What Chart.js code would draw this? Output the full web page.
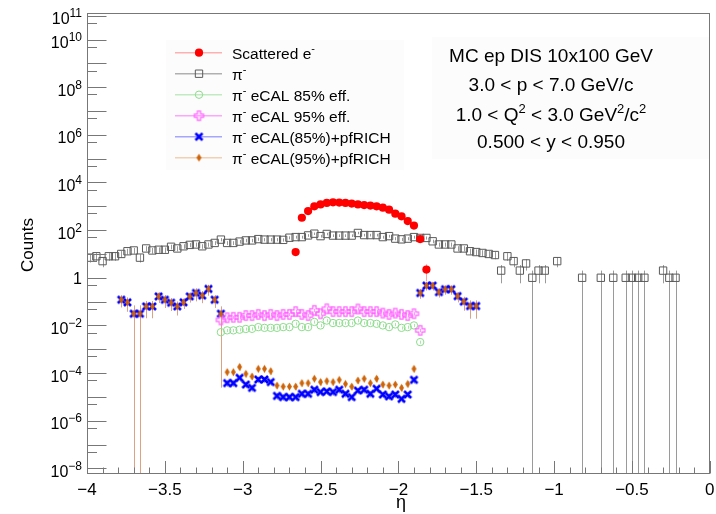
<!DOCTYPE html>
<html>
<head>
<meta charset="utf-8">
<script src="https://cdn.jsdelivr.net/npm/chart.js@4.4.1/dist/chart.umd.min.js"></script>
<style>
  body { margin: 0; background: #fff; }
  #wrap { width: 716px; height: 514px; }
</style>
</head>
<body>
<div id="wrap"><canvas id="etaChart" width="716" height="514"></canvas></div>
<script>
// eta binning: 100 bins between -4 and 0
const nBins = 100;
const etaMin = -4;
const etaMax = 0;

// pi- counts per bin (null = empty bin)
const piCounts = [
  7, 8, 5, 8, 8, 10, 13, 14, 7, 17,
  14, 15, 15, 20, 17, 21, 24, 25, 21, 25,
  29, 40, 29, 29, 33, 37, 37, 42, 40, 40,
  40, 39, 48, 51, 51, 60, 71, 56, 69, 59,
  59, 59, 59, 76, 62, 62, 62, 51, 56, 44,
  41, 44, 51, 47, 47, 34, 25, 25, 25, 17,
  17, 13, 12, 11, 10, 9, 2, 8, 5, 2,
  4, 1, 2, 2, null, 5, null, null, null, 1,
  null, null, 1, null, 1, null, 1, 1, 1, 1,
  null, null, 2, 1, 1, null, null, null, null, null
];

// scattered electron, starting at bin 33
const electronFirstBin = 33;
const electronCounts = [12, 330, 630, 1000, 1200, 1380, 1470, 1430, 1380, 1300, 1200,
  1130, 1070, 1000, 880, 720, 490, 380, 240, 155, 42, 2.2];

// eCAL-only suppression, starting at bin 21
const ecalFirstBin = 21;
const ecal85Values = [0.0052, 0.0062, 0.0062, 0.0066, 0.0071, 0.0072, 0.0085, 0.0079, 0.0079, 0.0079,
  0.0085, 0.0085, 0.0117, 0.0085, 0.0085, 0.014, 0.010, 0.016, 0.0126, 0.0126,
  0.0126, 0.0126, 0.016, 0.0126, 0.0126, 0.0117, 0.010, 0.0085, 0.011, 0.0079,
  0.0085, 0.010, 0.0020];
const ecal95Values = [0.017, 0.021, 0.022, 0.022, 0.026, 0.026, 0.029, 0.026, 0.029, 0.026,
  0.029, 0.029, 0.038, 0.029, 0.026, 0.043, 0.031, 0.050, 0.038, 0.038,
  0.038, 0.038, 0.049, 0.038, 0.038, 0.038, 0.033, 0.029, 0.033, 0.029,
  0.026, 0.031, 0.0062];
const ecalRelErr = 0.15;

// eCAL + pfRICH: forward and backward parts are the same for both efficiencies
const pidFirstBin = 5;
const pidForward = [0.12, 0.093, 0.031, 0.031, 0.063, 0.063, 0.165, 0.12, 0.09, 0.063,
  0.093, 0.165, 0.23, 0.18, 0.34, 0.12, 0.031];
const pidForwardRelErr = [0.52, 0.59, 1.2, 1.2, 0.68, 0.68, 0.47, 0.55, 0.55, 0.58,
  0.47, 0.44, 0.55, 0.52, 0.47, 0.54, 0.9992];
const pid85Central = [3.8e-5, 3.8e-5, 6.3e-5, 3.3e-5, 2.4e-5, 5.4e-5, 5.4e-5, 4.2e-5, 1.1e-5, 9.8e-6,
  9.8e-6, 9.8e-6, 1.35e-5, 1.35e-5, 2.0e-5, 1.6e-5, 1.7e-5, 1.6e-5, 2.0e-5, 1.35e-5,
  9.8e-6, 1.85e-5, 2.0e-5, 1.35e-5, 2.2e-5, 1.26e-5, 1.05e-5, 1.26e-5, 8.3e-6, 1.26e-5, 5.2e-5];
const pid95Central = [1.1e-4, 1.1e-4, 1.8e-4, 9.3e-5, 7.2e-5, 1.5e-4, 1.5e-4, 1.2e-4, 3.0e-5, 2.7e-5,
  2.7e-5, 2.7e-5, 3.8e-5, 3.8e-5, 5.8e-5, 4.2e-5, 4.6e-5, 4.2e-5, 5.2e-5, 3.5e-5,
  2.7e-5, 4.9e-5, 5.8e-5, 3.8e-5, 5.8e-5, 3.3e-5, 3.0e-5, 3.3e-5, 2.4e-5, 3.5e-5, 1.5e-4];
const pidCentralRelErr = 0.3;
const pidBackward = [0.23, 0.47, 0.47, 0.25, 0.33, 0.33, 0.17, 0.10, 0.065, 0.065];
const pidBackwardRelErr = [0.42, 0.37, 0.37, 0.4, 0.4, 0.4, 0.45, 0.58, 0.7, 0.7];

// axis ticks
const xTickLabels = [-4, -3.5, -3, -2.5, -2, -1.5, -1, -0.5, 0];
const yLabelExps = [-8, -6, -4, -2, 0, 2, 4, 6, 8, 10, 11];
const yMin = 5.8e-9;
const yMax = 1.3e11;

const FONT = "'Liberation Sans', Arial, Helvetica, sans-serif";
const font = size => size + 'px ' + FONT;

function binCenter(i) {
  return etaMin + (i + 0.5) * (etaMax - etaMin) / nBins;
}

function toPoints(firstBin, values, errOf) {
  const pts = [];
  values.forEach((v, k) => {
    if (v == null) return;
    pts.push({ x: binCenter(firstBin + k), y: v, e: errOf(v, k) });
  });
  return pts;
}

function markerCanvas(size, draw) {
  const c = document.createElement('canvas');
  c.width = size;
  c.height = size;
  const g = c.getContext('2d');
  g.translate(size / 2, size / 2);
  draw(g);
  return c;
}

const openCross = markerCanvas(13, g => {
  const a = 1.6, l = 4.6;
  g.beginPath();
  g.moveTo(-a, -l); g.lineTo(a, -l); g.lineTo(a, -a); g.lineTo(l, -a);
  g.lineTo(l, a); g.lineTo(a, a); g.lineTo(a, l); g.lineTo(-a, l);
  g.lineTo(-a, a); g.lineTo(-l, a); g.lineTo(-l, -a); g.lineTo(-a, -a);
  g.closePath();
  g.strokeStyle = 'rgb(255,100,255)';
  g.lineWidth = 1.2;
  g.stroke();
});

const boldX = markerCanvas(11, g => {
  g.strokeStyle = 'rgb(0,0,255)';
  g.lineWidth = 2.6;
  g.beginPath();
  g.moveTo(-3.5, -3.5); g.lineTo(3.5, 3.5);
  g.moveTo(3.5, -3.5); g.lineTo(-3.5, 3.5);
  g.stroke();
});

const diamond = markerCanvas(11, g => {
  g.fillStyle = 'rgb(205,100,10)';
  g.beginPath();
  g.moveTo(0, -4); g.lineTo(2.5, 0); g.lineTo(0, 4); g.lineTo(-2.5, 0);
  g.closePath();
  g.fill();
});

const pidRelErr = pidForwardRelErr
  .concat(pid85Central.map(() => pidCentralRelErr))
  .concat(pidBackwardRelErr);
const pid85Values = pidForward.concat(pid85Central, pidBackward);
const pid95Values = pidForward.concat(pid95Central, pidBackward);

const datasets = [
  {
    label: 'Scattered e-',
    data: toPoints(electronFirstBin, electronCounts, v => Math.sqrt(v)),
    pointStyle: 'circle', pointRadius: 4.1, pointBorderWidth: 0,
    pointBackgroundColor: '#ff0000', pointBorderColor: '#ff0000',
    errColor: 'rgba(255,80,80,0.55)', legendLine: 'rgba(255,0,0,0.3)', order: 0
  },
  {
    label: 'pi-',
    data: toPoints(0, piCounts, v => Math.sqrt(v)),
    pointStyle: 'rect', pointRadius: 5.2, pointBorderWidth: 1,
    pointBackgroundColor: 'rgba(0,0,0,0)', pointBorderColor: '#5a5a5a',
    errColor: '#9a9a9a', legendLine: '#b0b0b0', order: 5
  },
  {
    label: 'pi- eCAL 85% eff.',
    data: toPoints(ecalFirstBin, ecal85Values, v => v * ecalRelErr),
    pointStyle: 'circle', pointRadius: 3.7, pointBorderWidth: 1,
    pointBackgroundColor: 'rgba(0,0,0,0)', pointBorderColor: 'rgb(140,220,140)',
    errColor: 'rgb(170,230,170)', legendLine: 'rgba(120,210,120,0.45)', order: 3
  },
  {
    label: 'pi- eCAL 95% eff.',
    data: toPoints(ecalFirstBin, ecal95Values, v => v * ecalRelErr),
    pointStyle: openCross, pointRadius: 3,
    errColor: 'rgba(255,110,255,0.7)', legendLine: 'rgba(255,80,255,0.5)', order: 2
  },
  {
    label: 'pi- eCAL(85%)+pfRICH',
    data: toPoints(pidFirstBin, pid85Values, (v, k) => v * pidRelErr[k]),
    pointStyle: boldX, pointRadius: 3,
    errColor: 'rgba(90,90,255,0.55)', legendLine: 'rgba(60,60,255,0.45)', order: 4
  },
  {
    label: 'pi- eCAL(95%)+pfRICH',
    data: toPoints(pidFirstBin, pid95Values, (v, k) => v * pidRelErr[k]),
    pointStyle: diamond, pointRadius: 3,
    errColor: 'rgba(240,160,90,0.75)', legendLine: 'rgba(225,140,70,0.4)', order: 1
  }
];

// legend text, [text, superscript]
const legendLabels = [
  [['Scattered e', false], ['-', true]],
  [['\u03c0', false], ['-', true]],
  [['\u03c0', false], ['-', true], [' eCAL 85% eff.', false]],
  [['\u03c0', false], ['-', true], [' eCAL 95% eff.', false]],
  [['\u03c0', false], ['-', true], [' eCAL(85%)+pfRICH', false]],
  [['\u03c0', false], ['-', true], [' eCAL(95%)+pfRICH', false]]
];

const infoLines = [
  [['MC ep DIS 10x100 GeV', false]],
  [['3.0 < p < 7.0 GeV/c', false]],
  [['1.0 < Q', false], ['2', true], [' < 3.0 GeV', false], ['2', true], ['/c', false], ['2', true]],
  [['0.500 < y < 0.950', false]]
];

function drawRich(ctx, parts, x, y, size, supSize, align) {
  let w = 0;
  parts.forEach(([t, sup]) => {
    ctx.font = font(sup ? supSize : size);
    w += ctx.measureText(t).width;
  });
  let cx = align === 'center' ? x - w / 2 : align === 'right' ? x - w : x;
  ctx.textAlign = 'left';
  parts.forEach(([t, sup]) => {
    ctx.font = font(sup ? supSize : size);
    ctx.fillText(t, cx, sup ? y - size * 0.42 : y);
    cx += ctx.measureText(t).width;
  });
}

function drawMarker(ctx, ds, x, y) {
  const style = ds.pointStyle;
  if (typeof style === 'object') {
    ctx.drawImage(style, x - style.width / 2, y - style.height / 2);
    return;
  }
  ctx.lineWidth = ds.pointBorderWidth || 1;
  ctx.strokeStyle = ds.pointBorderColor;
  ctx.fillStyle = ds.pointBackgroundColor;
  ctx.beginPath();
  if (style === 'rect') {
    const s = Math.SQRT1_2 * ds.pointRadius;
    ctx.rect(x - s, y - s, 2 * s, 2 * s);
  } else {
    ctx.arc(x, y, ds.pointRadius, 0, Math.PI * 2);
  }
  ctx.fill();
  if (ds.pointBorderWidth) ctx.stroke();
}

// sqrt / relative error bars, clipped to the frame
const errorBars = {
  id: 'errorBars',
  beforeDatasetsDraw(chart) {
    const ctx = chart.ctx, area = chart.chartArea;
    const xs = chart.scales.x, ys = chart.scales.y;
    ctx.save();
    ctx.fillStyle = 'rgba(0,0,0,0.012)';
    ctx.fillRect(166, 40, 238, 130);
    ctx.fillRect(432, 37, area.right - 432, 122);
    ctx.beginPath();
    ctx.rect(area.left, area.top, area.right - area.left, area.bottom - area.top);
    ctx.clip();
    const sorted = chart.data.datasets.slice().sort((a, b) => b.order - a.order);
    sorted.forEach(ds => {
      ctx.strokeStyle = ds.errColor;
      ctx.lineWidth = 1;
      ds.data.forEach(p => {
        const px = Math.round(xs.getPixelForValue(p.x)) + 0.5;
        const lo = p.y - p.e;
        const yTop = ys.getPixelForValue(p.y + p.e);
        const yBot = lo > 0 ? ys.getPixelForValue(lo) : area.bottom;
        ctx.beginPath();
        ctx.moveTo(px, yTop);
        ctx.lineTo(px, yBot);
        ctx.stroke();
      });
    });
    ctx.restore();
  }
};

// frame, ticks, labels, legend and the run info text
const decorations = {
  id: 'decorations',
  afterDatasetsDraw(chart) {
    const ctx = chart.ctx, area = chart.chartArea;
    const xs = chart.scales.x, ys = chart.scales.y;
    ctx.save();
    ctx.strokeStyle = '#777';
    ctx.lineWidth = 1;
    const L = Math.round(area.left) + 0.5, T = Math.round(area.top) + 0.5;
    const R = Math.round(area.right) - 0.5, B = Math.round(area.bottom) - 0.5;
    ctx.strokeRect(L, T, R - L, B - T);

    // y ticks: decades long, 5x10^n short
    ctx.beginPath();
    for (let e = -9; e <= 11; e++) {
      const v = Math.pow(10, e);
      if (v >= yMin && v <= yMax) {
        const py = Math.round(ys.getPixelForValue(v)) + 0.5;
        ctx.moveTo(L, py); ctx.lineTo(L + 19, py);
      }
      const h = 5 * Math.pow(10, e - 1);
      if (h >= yMin && h <= yMax) {
        const py = Math.round(ys.getPixelForValue(h)) + 0.5;
        ctx.moveTo(L, py); ctx.lineTo(L + 9.5, py);
      }
    }
    // x ticks every 0.1, long every 0.5
    for (let k = 0; k <= 40; k++) {
      const px = Math.round(xs.getPixelForValue(etaMin + k * 0.1)) + 0.5;
      const len = k % 5 === 0 ? 12.5 : 6;
      ctx.moveTo(px, B); ctx.lineTo(px, B - len);
    }
    ctx.stroke();

    ctx.fillStyle = '#000';
    ctx.textBaseline = 'alphabetic';
    ctx.font = font(17);
    ctx.textAlign = 'center';
    xTickLabels.forEach(v => {
      const txt = v === 0 ? '0' : '\u2212' + Math.abs(v);
      ctx.fillText(txt, xs.getPixelForValue(v), 495);
    });

    yLabelExps.forEach(e => {
      const py = ys.getPixelForValue(Math.pow(10, e));
      if (e === 0) {
        ctx.font = font(16);
        ctx.textAlign = 'right';
        ctx.fillText('1', 82, py + 6);
      } else {
        const sup = e < 0 ? '\u2212' + (-e) : String(e);
        drawRich(ctx, [['10', false], [sup, true]], 82, py + 8.5, 16, 12, 'right');
      }
    });

    // axis titles
    ctx.font = font(17);
    ctx.textAlign = 'center';
    ctx.save();
    ctx.translate(33, 245);
    ctx.rotate(-Math.PI / 2);
    ctx.fillText('Counts', 0, 0);
    ctx.restore();
    ctx.font = font(18);
    ctx.fillText('\u03b7', 401, 508);

    // legend
    const ds = chart.data.datasets;
    legendLabels.forEach((parts, k) => {
      const my = 52.7 + 21 * k;
      ctx.strokeStyle = ds[k].legendLine;
      ctx.lineWidth = 1.5;
      ctx.beginPath();
      ctx.moveTo(175, my); ctx.lineTo(222, my);
      ctx.stroke();
      drawMarker(ctx, ds[k], 199, my);
      ctx.fillStyle = '#000';
      drawRich(ctx, parts, 232, my + 5.8, 15.5, 11, 'left');
    });

    // run conditions
    const baselines = [62, 91, 121, 148];
    infoLines.forEach((parts, k) => {
      drawRich(ctx, parts, 551, baselines[k], 19, 13, 'center');
    });
    ctx.restore();
  }
};

new Chart(document.getElementById('etaChart'), {
  type: 'scatter',
  data: { datasets: datasets },
  options: {
    responsive: false,
    animation: false,
    devicePixelRatio: 1,
    layout: { padding: { left: 87, right: 3, top: 13, bottom: 40 } },
    scales: {
      x: { type: 'linear', min: etaMin, max: etaMax, display: false },
      y: { type: 'logarithmic', min: yMin, max: yMax, display: false }
    },
    plugins: {
      legend: { display: false },
      tooltip: { enabled: false }
    }
  },
  plugins: [errorBars, decorations]
});
</script>
</body>
</html>
